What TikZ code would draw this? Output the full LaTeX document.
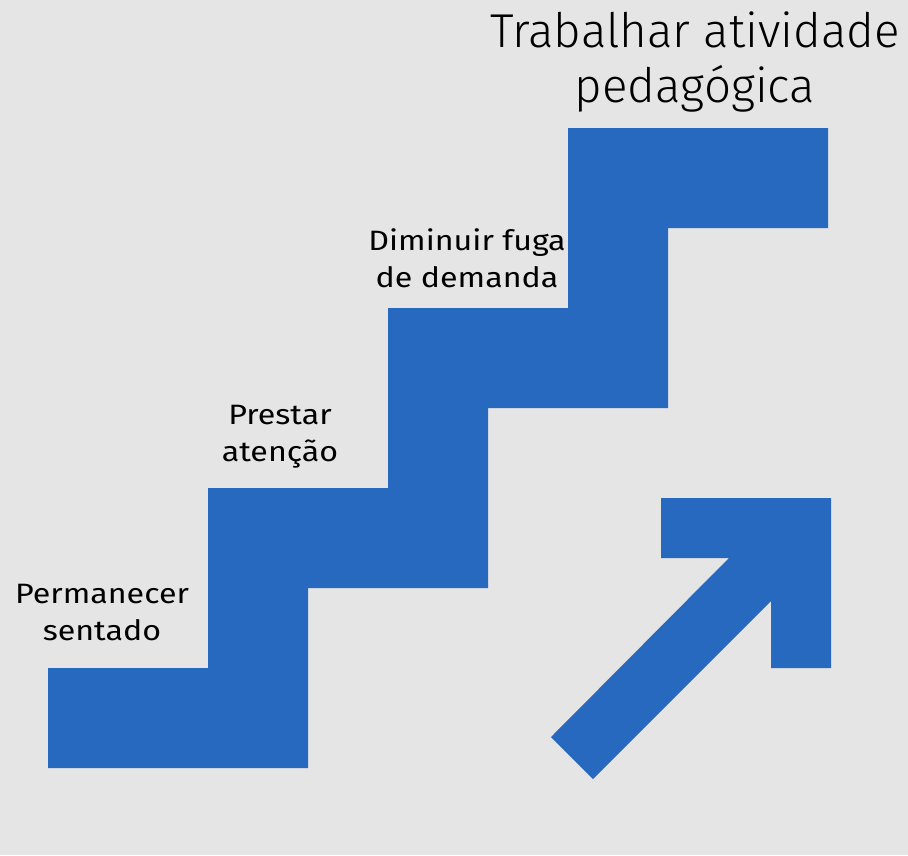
\documentclass[tikz,border=0pt]{standalone}
\usepackage{fontspec}
\setmainfont{Fira Sans}[UprightFont={* Light}]
\newfontfamily\steplabelfont{Fira Sans}[FakeStretch=1.15]
\usetikzlibrary{positioning}
\definecolor{stairblue}{HTML}{2669BF}
\definecolor{bggray}{HTML}{E5E5E5}

\begin{document}
\begin{tikzpicture}[
  x=1pt, y=-1pt,
  stairlabel/.style={align=center,inner sep=0pt,font=\steplabelfont\fontsize{28}{37}\selectfont},
  headline/.style={align=center,inner sep=0pt,font=\fontsize{47.5}{55}\selectfont}
]
  \fill[bggray] (0,0) rectangle (908,855);
  \useasboundingbox (0,0) rectangle (908,855);
  % stairs
  \fill[stairblue] (48,768) -- (308,768) -- (308,588) -- (488,588) -- (488,408)
    -- (668,408) -- (668,228) -- (828,228) -- (828,128) -- (568,128) -- (568,308)
    -- (388,308) -- (388,488) -- (208,488) -- (208,668) -- (48,668) -- cycle;
  % arrow
  \fill[stairblue] (661,498) -- (831,498) -- (831,668) -- (771,668) -- (771,601)
    -- (593,779) -- (551,737) -- (729,558) -- (661,558) -- cycle;
  \node[stairlabel] (sit) at (102,613) {Permanecer\\sentado};
  \node[stairlabel] (attend) at (280,437) {Prestar\\atenção};
  \node[stairlabel] (demand) at (467,258) {Diminuir fuga\\de demanda};
  \node[headline] (goal) at (695,62) {Trabalhar atividade\\pedagógica};
\end{tikzpicture}
\end{document}
